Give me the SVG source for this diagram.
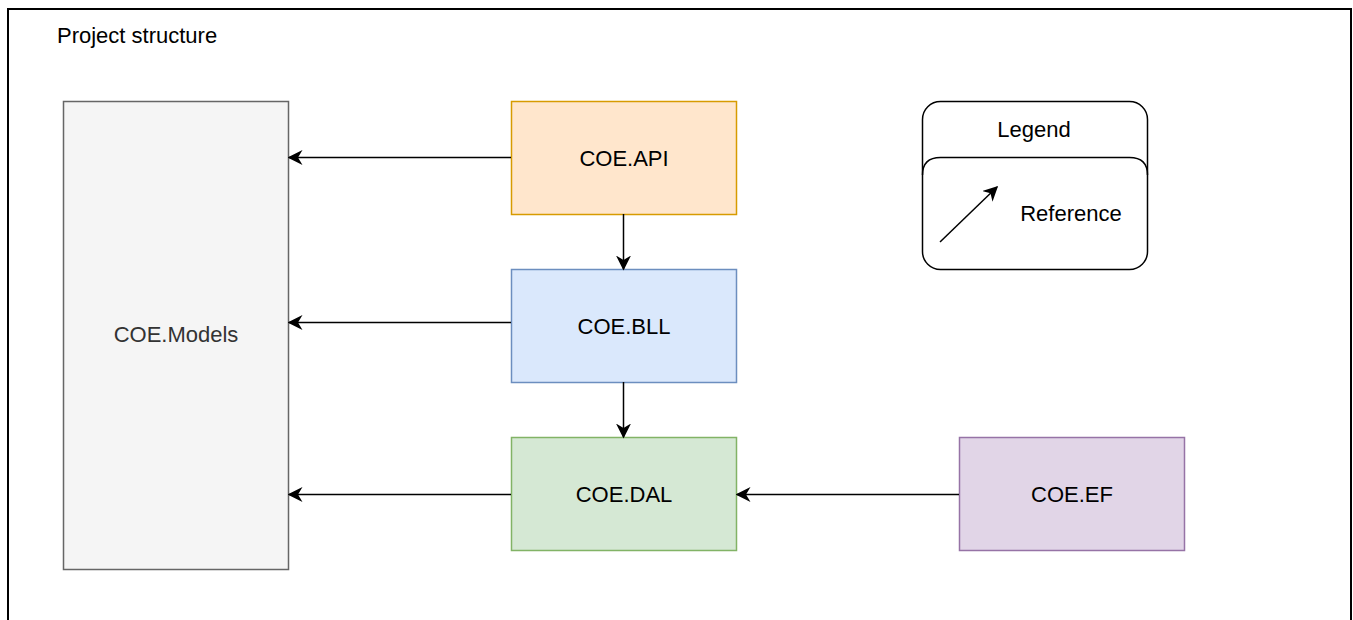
<svg xmlns="http://www.w3.org/2000/svg" width="1353" height="620" viewBox="0 0 1353 620">
  <defs>
    <marker id="arrow" viewBox="0 0 10 10" refX="9" refY="5" markerWidth="15" markerHeight="15" markerUnits="userSpaceOnUse" orient="auto">
      <path d="M0,0 L10,5 L0,10 L3,5 Z" fill="#000"/>
    </marker>
    <marker id="arrowBig" viewBox="0 0 10 10" refX="9" refY="5" markerWidth="15" markerHeight="15" markerUnits="userSpaceOnUse" orient="auto">
      <path d="M0,0 L10,5 L0,10 L3,5 Z" fill="#000"/>
    </marker>
  </defs>
  <style>
    text { font-family: "Liberation Sans", Arial, sans-serif; font-size: 22px; fill: #000; }
    .c { text-anchor: middle; dominant-baseline: central; }
    .node { stroke-width: 1.5; }
    .edge { stroke: #000; stroke-width: 1.5; fill: none; }
  </style>
  <rect width="1353" height="620" fill="#fff"/>

  <g id="frame">
    <rect x="8" y="9" width="1343" height="630" fill="#fff" stroke="#000" stroke-width="2"/>
    <text x="57" y="43">Project structure</text>
  </g>

  <g id="models">
    <rect class="node" x="63.5" y="101.5" width="225" height="468" fill="#f5f5f5" stroke="#666"/>
    <text class="c" x="176" y="334" style="fill:#333">COE.Models</text>
  </g>

  <g id="api">
    <rect class="node" x="511.5" y="101.5" width="225" height="113" fill="#ffe6cc" stroke="#d79b00"/>
    <text class="c" x="624" y="158">COE.API</text>
  </g>

  <g id="bll">
    <rect class="node" x="511.5" y="269.5" width="225" height="113" fill="#dae8fc" stroke="#6c8ebf"/>
    <text class="c" x="624" y="326">COE.BLL</text>
  </g>

  <g id="dal">
    <rect class="node" x="511.5" y="437.5" width="225" height="113" fill="#d5e8d4" stroke="#82b366"/>
    <text class="c" x="624" y="494">COE.DAL</text>
  </g>

  <g id="ef">
    <rect class="node" x="959.5" y="437.5" width="225" height="113" fill="#e1d5e7" stroke="#9673a6"/>
    <text class="c" x="1072" y="494">COE.EF</text>
  </g>

  <g id="legend">
    <rect x="922.5" y="101.5" width="225" height="168" rx="18" ry="18" fill="#fff" stroke="#000" stroke-width="1.5"/>
    <text class="c" x="1034" y="129">Legend</text>
    <path d="M922.5,175 Q922.5,157.5 940.5,157.5 L1129.5,157.5 Q1147.5,157.5 1147.5,175" fill="none" stroke="#000" stroke-width="1.5"/>
    <line class="edge" x1="940" y1="242" x2="997" y2="187" stroke-width="1" marker-end="url(#arrow)"/>
    <text class="c" x="1071" y="213">Reference</text>
  </g>

  <g id="connectors">
    <line class="edge" x1="511" y1="157.5" x2="289" y2="157.5" marker-end="url(#arrowBig)"/>
    <line class="edge" x1="511" y1="322.5" x2="289" y2="322.5" marker-end="url(#arrowBig)"/>
    <line class="edge" x1="511" y1="494.5" x2="289" y2="494.5" marker-end="url(#arrowBig)"/>
    <line class="edge" x1="623.5" y1="214" x2="623.5" y2="269" marker-end="url(#arrowBig)"/>
    <line class="edge" x1="623.5" y1="382" x2="623.5" y2="437" marker-end="url(#arrowBig)"/>
    <line class="edge" x1="959" y1="494.5" x2="737" y2="494.5" marker-end="url(#arrowBig)"/>
  </g>
</svg>
